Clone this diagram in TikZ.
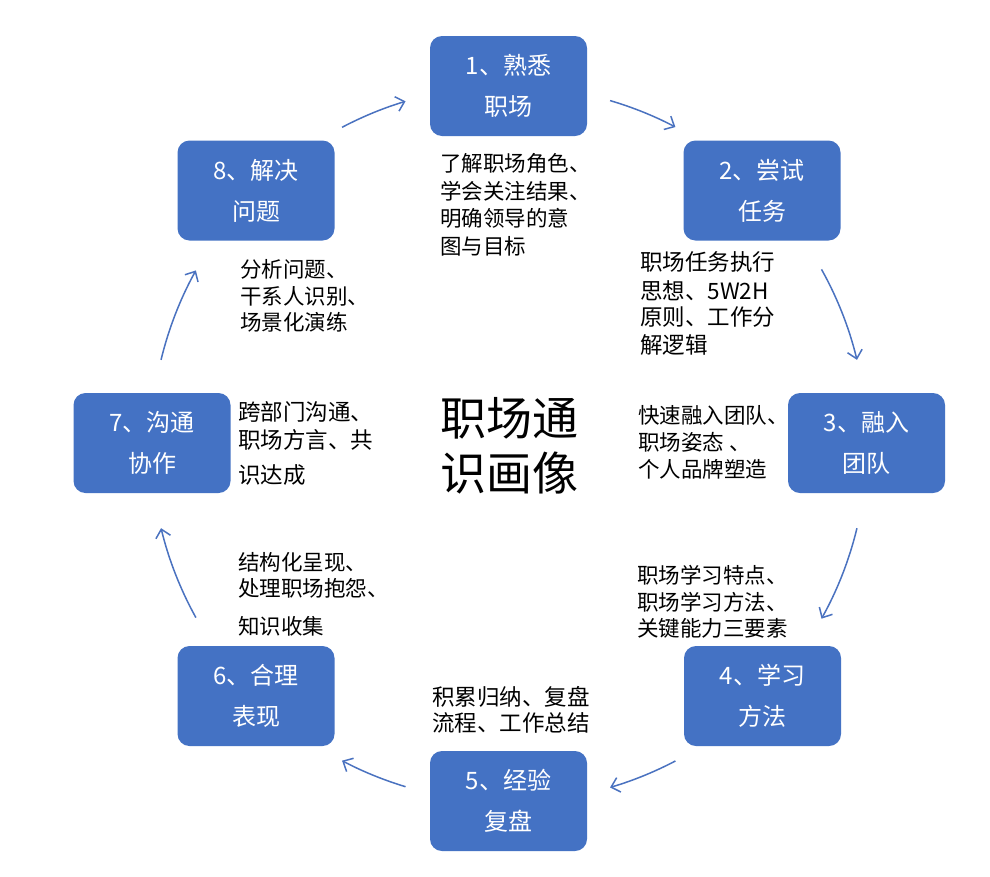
\documentclass[tikz,border=0pt]{standalone}
\usepackage{fontspec}
\setmainfont{Noto Sans CJK SC}
\usetikzlibrary{arrows.meta,calc}
\definecolor{boxblue}{HTML}{4472C4}
\definecolor{arrblue}{HTML}{4A72C0}
\begin{document}
\begin{tikzpicture}[x=1pt,y=-1pt,
  box/.style={fill=boxblue, rounded corners=12pt, minimum width=157pt, minimum height=100pt,
    text=white, font=\fontsize{24}{41}\selectfont, align=center, inner sep=0pt},
  body/.style={anchor=base west, inner sep=0pt, font=\fontsize{21.5}{27}\selectfont},
  bodyw/.style={body, font=\fontsize{22.5}{27}\selectfont},
  title/.style={align=left, inner sep=0pt, font=\fontsize{46}{55}\selectfont},
  arr/.style={draw=arrblue, line width=1.5pt, -{Straight Barb[length=8pt, width=15pt]}}]
\useasboundingbox[fill=white] (0,0) rectangle (990,876);

% boxes
\node[box] (n1) at (508.5,86)  {1、熟悉\\职场};
\node[box] (n2) at (762,190.5) {2、尝试\\任务};
\node[box] (n3) at (866.5,443) {3、融入\\团队};
\node[box] (n4) at (762.5,696) {4、学习\\方法};
\node[box] (n5) at (508.5,801) {5、经验\\复盘};
\node[box] (n6) at (256,696)   {6、合理\\表现};
\node[box] (n7) at (152,443)   {7、沟通\\协作};
\node[box] (n8) at (256,190.5) {8、解决\\问题};

% title
\node[title] (t) at (509,446) {职场通\\识画像};

% descriptions
\node[body] (d1a) at (440,171) {了解职场角色、};
\node[body] (d1b) at (440,199) {学会关注结果、};
\node[body] (d1c) at (440,226) {明确领导的意};
\node[body] (d1d) at (440,254) {图与目标};

\node[bodyw] (d2a) at (640,270) {职场任务执行};
\node[bodyw] (d2b) at (640,299) {思想、5W2H};
\node[bodyw] (d2c) at (640,325) {原则、工作分};
\node[bodyw] (d2d) at (640,353) {解逻辑};

\node[body] (d3a) at (638,423) {快速融入团队、};
\node[body] (d3b) at (638,450) {职场姿态 、};
\node[body] (d3c) at (638,477) {个人品牌塑造};

\node[body] (d4a) at (637,583) {职场学习特点、};
\node[body] (d4b) at (637,610) {职场学习方法、};
\node[body] (d4c) at (637,636) {关键能力三要素};

\node[bodyw] (d5a) at (432,705) {积累归纳、复盘};
\node[bodyw] (d5b) at (432,731) {流程、工作总结};

\node[body] (d6a) at (238,570) {结构化呈现、};
\node[body] (d6b) at (238,596) {处理职场抱怨、};
\node[body] (d6c) at (238,634) {知识收集};

\node[bodyw] (d7a) at (238,420) {跨部门沟通、};
\node[bodyw] (d7b) at (238,448) {职场方言、共};
\node[bodyw] (d7c) at (238,483) {识达成};

\node[body] (d8a) at (240,277) {分析问题、};
\node[body] (d8b) at (240,304) {干系人识别、};
\node[body] (d8c) at (240,330) {场景化演练};

% cycle arrows (arcs round the centre)
\coordinate (c) at (509,444);
\foreach \s/\e in {117.8/106.8, 73.6/62.3, 29.2/13.6, -13.6/-29.2, -62.3/-73.6, -106.8/-117.8, -151/-166.4, 166.4/151}
  \draw[arr] ($(c)+(\s:358pt)$) arc[start angle=\s, end angle=\e, radius=358pt];
\end{tikzpicture}
\end{document}
